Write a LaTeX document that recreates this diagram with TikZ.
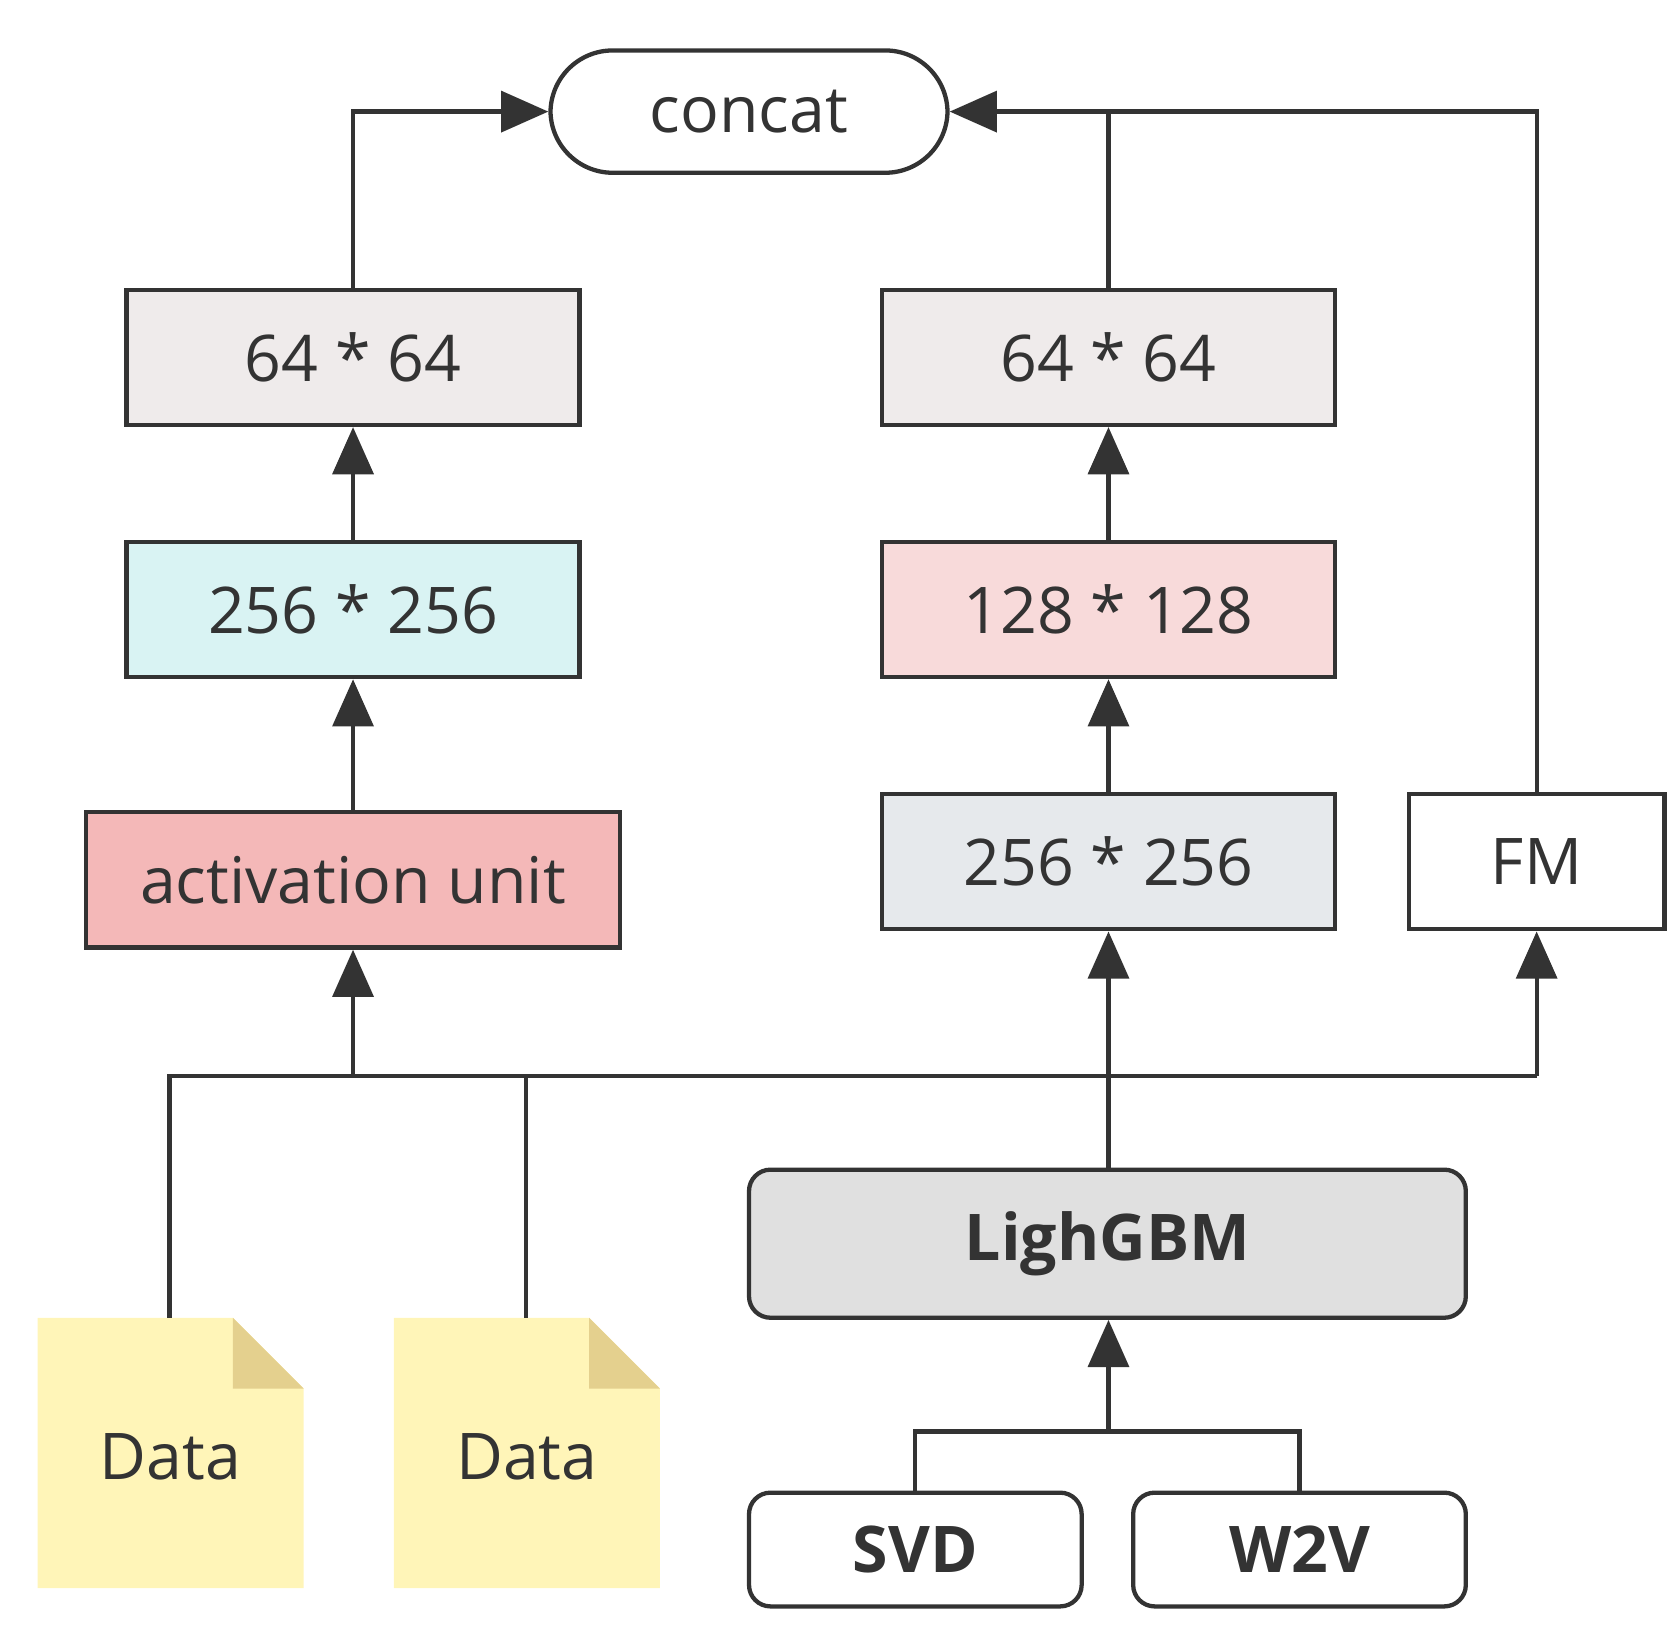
\documentclass[tikz,border=0pt]{standalone}
\usepackage{fontspec}
\setmainfont{Open Sans}
\usetikzlibrary{arrows.meta}
\definecolor{ln}{HTML}{333333}
\definecolor{cA}{HTML}{EFEBEB}
\definecolor{cB}{HTML}{D9F3F3}
\definecolor{cC}{HTML}{F4B8B8}
\definecolor{cD}{HTML}{F8DADA}
\definecolor{cE}{HTML}{E6E9EC}
\definecolor{cF}{HTML}{E0E0E0}
\definecolor{cG}{HTML}{FFF5B8}
\definecolor{cH}{HTML}{E4D08E}
\begin{document}
\begin{tikzpicture}[x=0.5pt,y=-0.5pt,
 box/.style={draw=ln,line width=2pt,minimum width=211pt,minimum height=63pt,font=\fontsize{30}{36}\selectfont,text=ln,inner sep=0},
 rbox/.style={box,rounded corners=10pt},
 conn/.style={draw=ln,line width=2pt},
 arr/.style={conn,-{Triangle[width=19pt,length=22pt]}},
 datan/.style={minimum width=124pt,minimum height=126pt,font=\fontsize{30}{36}\selectfont,text=ln,inner sep=0}]
\useasboundingbox (0,0) rectangle (1560,1516);
\node[box,rounded corners=29pt,minimum width=185pt,minimum height=57pt] (concat) at (698,104) {concat};
\node[box,fill=cA] (l64) at (329,333) {64 * 64};
\node[box,fill=cB] (l256) at (329,568) {256 * 256};
\node[box,minimum width=249pt,fill=cC] (act) at (329,820) {activation unit};
\node[box,fill=cA] (r64) at (1033,333) {64 * 64};
\node[box,fill=cD] (r128) at (1033,568) {128 * 128};
\node[box,fill=cE] (r256) at (1033,803) {256 * 256};
\node[box,minimum width=119pt] (fm) at (1432,803) {FM};
\node[rbox,minimum width=334pt,minimum height=69pt,fill=cF,font=\fontsize{30}{36}\selectfont\bfseries] (lgb) at (1032,1159) {LighGBM};
\node[rbox,minimum width=155pt,minimum height=53pt,font=\fontsize{30}{36}\selectfont\bfseries] (svd) at (853,1444) {SVD};
\node[rbox,minimum width=155pt,minimum height=53pt,font=\fontsize{30}{36}\selectfont\bfseries] (w2v) at (1211,1444) {W2V};
\foreach \n/\x in {d1/35,d2/367}{
 \fill[cG] (\x,1228) -- (\x+182,1228) -- (\x+248,1294) -- (\x+248,1480) -- (\x,1480) -- cycle;
 \fill[cH] (\x+182,1228) -- (\x+248,1294) -- (\x+182,1294) -- cycle;
 \node[datan] (\n) at (\x+124,1358) {Data};
}
\coordinate (b1) at (158,1003);
\coordinate (b2) at (490,1003);
\coordinate (bm) at (329,1003);
\coordinate (bf) at (1432,1003);
\coordinate (j) at (1033,1334);
\draw[conn] (158,1228) -- (b1) -- (bf);
\draw[conn] (490,1228) -- (b2);
\draw[arr] (bm) -- (act);
\draw[arr] (bf) -- (fm);
\draw[arr] (lgb.north -| r256) -- (r256);
\draw[conn] (svd.north) |- (j) -| (w2v.north);
\draw[arr] (j) -- (lgb.south -| j);
\draw[arr] (act) -- (l256);
\draw[arr] (l256) -- (l64);
\draw[arr] (r256) -- (r128);
\draw[arr] (r128) -- (r64);
\draw[arr] (l64.north) |- (concat.west);
\draw[arr] (fm.north) |- (concat.east);
\draw[conn] (r64.north) -- (r64.north |- concat.east);
\end{tikzpicture}
\end{document}
